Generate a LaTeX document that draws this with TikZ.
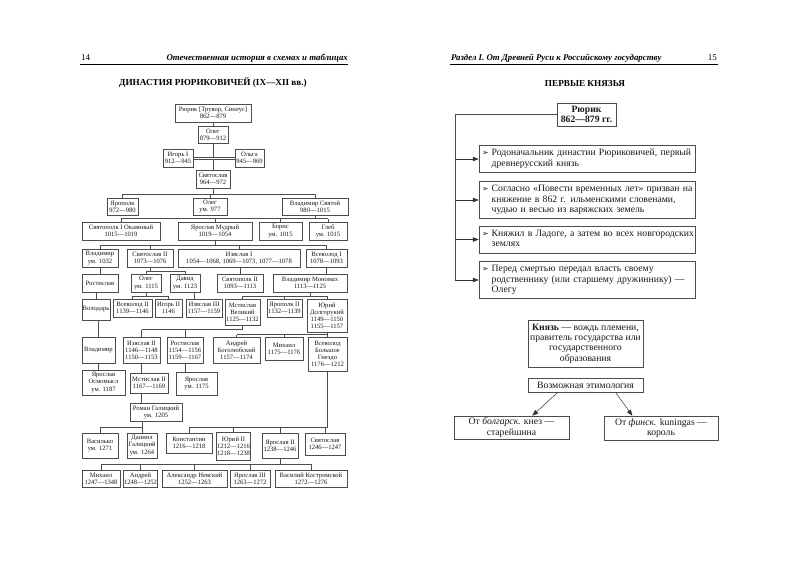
\documentclass[tikz,border=0pt]{standalone}
\usepackage{fontspec}
\setmainfont{Liberation Serif}
\newfontfamily\symfont{DejaVu Sans}
\usetikzlibrary{arrows.meta,calc}
\newcommand{\kbox}[7][bx]{\node[#1, minimum width={(#4)-(#3)}, minimum height={(#6)-(#5)}] (#2) at ({((#3)+(#4))/2},{-((#5)+(#6))/2}) {#7};}
\newcommand{\kids}[5]{%
  \coordinate (bb) at (0,-#2);
  \draw[cn] (#1.south) -- (#1.south |- bb);
  \draw[cn] (#3 |- bb) -- (#4 |- bb);
  \foreach \c in {#5} {\draw[cn] (\c.north) -- (\c.north |- bb);}
}
\newcommand{\bul}{{\symfont\fontsize{8}{8}\selectfont ➢}}
\tikzset{
  bx/.style={draw=black!70, line width=0.45pt, inner sep=0.5pt, align=center,
    font=\fontsize{6.6}{7.1}\selectfont, text=black!90},
  cn/.style={draw=black!70, line width=0.45pt},
  rbx/.style={draw=black!70, line width=0.5pt, inner sep=1pt, align=center,
    font=\fontsize{9.7}{10.4}\selectfont, text=black!90},
  rinfo/.style={draw=black!70, line width=0.5pt, inner sep=3pt, align=left,
    text width=210pt, font=\fontsize{9.7}{10.4}\selectfont, text=black!90},
  arr/.style={draw=black!80, line width=0.5pt, -{Triangle[length=6pt,width=4.5pt]}},
  hdr/.style={font=\bfseries\itshape\fontsize{8.8}{10}\selectfont},
  ttl/.style={font=\bfseries\fontsize{9.2}{10}\selectfont},
}
\begin{document}
\begin{tikzpicture}[x=1pt,y=1pt]
\useasboundingbox (0,0) rectangle (800,-566);
\fill[white] (0,0) rectangle (800,-566);

% ---------- left page header ----------
\node[anchor=base west, font=\fontsize{9}{10}\selectfont, inner sep=0] (p14) at (81,-60) {14};
\node[hdr, anchor=base east, inner sep=0] (hl) at (348,-60) {Отечественная история в схемах и таблицах};
\draw[line width=0.5pt] (80,-64.5) -- (348,-64.5);
\node[ttl] (tl) at (213,-83) {ДИНАСТИЯ РЮРИКОВИЧЕЙ (IX—XII вв.)};

% ---------- left tree ----------
\kbox{rk}{175}{251}{104}{122}{Рюрик [Трувор, Синеус]\\862—879}
\kbox{ol}{198}{228}{126}{143}{Олег\\879—912}
\kbox{ig}{163}{193}{149}{167}{Игорь I\\912—945}
\kbox{og}{235}{264}{149}{167}{Ольга\\945—969}
\kbox{sv}{196}{230}{170}{188}{Святослав\\964—972}
\kbox{yp}{107}{138}{198}{215}{Ярополк\\972—980}
\kbox{olb}{193}{227}{198}{215}{Олег\\ум. 977}
\kbox{vs}{282}{348}{198}{215}{Владимир Святой\\980—1015}
\kbox{spa}{82}{160}{222}{240}{Святополк I Окаянный\\1015—1019}
\kbox{ym}{178}{252}{222}{240}{Ярослав Мудрый\\1019—1054}
\kbox{bo}{259}{302}{222}{240}{Борис\\ум. 1015}
\kbox{gl}{309}{347}{222}{240}{Глеб\\ум. 1015}
\kbox{vla}{82}{118}{249}{267}{Владимир\\ум. 1032}
\kbox{sva}{127}{173}{249}{267}{Святослав II\\1073—1076}
\kbox{iza}{178}{300}{249}{267}{Изяслав I\\1054—1068, 1069—1073, 1077—1078}
\kbox{vva}{306}{347}{249}{267}{Всеволод I\\1078—1093}
\kbox{ro}{82}{118}{274}{292}{Ростислав}
\kbox{olc}{131}{161}{274}{292}{Олег\\ум. 1115}
\kbox{da}{170}{200}{274}{292}{Давид\\ум. 1123}
\kbox{spb}{217}{263}{274}{292}{Святополк II\\1093—1113}
\kbox{vm}{273}{347}{274}{292}{Владимир Мономах\\1113—1125}
\kbox{vo}{82}{110}{299}{320}{Володарь}
\kbox{vvb}{113}{152}{299}{317}{Всеволод II\\1139—1146}
\kbox{igb}{155}{182}{299}{317}{Игорь II\\1146}
\kbox{izc}{186}{222}{299}{317}{Изяслав III\\1157—1159}
\kbox{mv}{225}{260}{299}{325}{Мстислав\\Великий\\1125—1132}
\kbox{ypb}{267}{302}{299}{317}{Ярополк II\\1132—1139}
\kbox{yd}{307}{347}{299}{332}{Юрий\\Долгорукий\\1149—1150\\1155—1157}
\kbox{vlb}{82}{115}{337}{363}{Владимир}
\kbox{izb}{123}{160}{337}{363}{Изяслав II\\1146—1148\\1150—1153}
\kbox{rob}{167}{203}{337}{363}{Ростислав\\1154—1156\\1159—1167}
\kbox{an}{213}{260}{337}{363}{Андрей\\Боголюбский\\1157—1174}
\kbox{mi}{265}{303}{337}{360}{Михаил\\1175—1176}
\kbox{vbg}{308}{347}{337}{371}{Всеволод\\Большое\\Гнездо\\1176—1212}
\kbox{yo}{82}{125}{370}{395}{Ярослав\\Осмомысл\\ум. 1187}
\kbox{msb}{130}{168}{373}{393}{Мстислав II\\1167—1169}
\kbox{ya}{176}{217}{372}{395}{Ярослав\\ум. 1175}
\kbox{rg}{130}{182}{403}{421}{Роман Галицкий\\ум. 1205}
\kbox{va}{82}{118}{433}{458}{Василько\\ум. 1271}
\kbox{dg}{127}{157}{433}{458}{Даниил\\Галицкий\\ум. 1264}
\kbox{ko}{166}{212}{433}{453}{Константин\\1216—1218}
\kbox{yub}{217}{250}{432}{460}{Юрий II\\1212—1216\\1218—1238}
\kbox{yab}{262}{298}{433}{458}{Ярослав II\\1238—1246}
\kbox{svc}{305}{345}{433}{455}{Святослав\\1246—1247}
\kbox{mic}{82}{120}{470}{487}{Михаил\\1247—1348}
\kbox{anb}{124}{157}{470}{487}{Андрей\\1248—1252}
\kbox{anc}{162}{227}{470}{487}{Александр Невский\\1252—1263}
\kbox{yac}{230}{270}{470}{487}{Ярослав III\\1263—1272}
\kbox{vk}{275}{347}{470}{487}{Василий Костромской\\1272—1276}

% connectors
\draw[cn] (rk.south) -- (ol.north);
\draw[cn] (ol.south) -- ([yshift=1pt]ol.south |- ig.east);
\draw[cn] (sv.north) -- ([yshift=-1pt]sv.north |- ig.east);
\draw[cn] ([yshift=1pt]ig.east) -- ([yshift=1pt]og.west);
\draw[cn] ([yshift=-1pt]ig.east) -- ([yshift=-1pt]og.west);
\kids{sv}{194}{yp}{vs}{yp,olb,vs}
\kids{vs}{218.5}{spa}{gl}{spa,ym,bo,gl}
\kids{ym}{245}{vla}{vva}{vla,sva,iza,vva}
\draw[cn] (vla.south) -- (vla.south |- ro.north);
\kids{sva}{271}{olc}{da}{olc,da}
\draw[cn] (spb.north) -- (spb.north |- iza.south);
\draw[cn] (vva.south) -- (vva.south |- vm.north);
\draw[cn] (vo.north) -- (vo.north |- ro.south);
\kids{olc}{296}{vvb}{igb}{vvb,igb}
\coordinate (m1) at ($(da.south)!0.5!(izc.north)$);
\draw[cn] (da.south -| m1) -- (izc.north -| m1);
\kids{vm}{296}{mv}{yd}{mv,ypb,yd}
\kids{mv}{329.5}{izb}{mv}{izb,rob}
\kids{yd}{334.5}{an}{vbg}{an,mi,vbg}
\draw[cn] (vlb.north) -- (vlb.north |- vo.south);
\draw[cn] (vlb.south) -- (vlb.south |- yo.north);
\draw[cn] (izb.south) -- (izb.south |- msb.north);
\draw[cn] (rob.south) -- (rob.south |- ya.north);
\draw[cn] (izb.south |- msb.south) -- (izb.south |- rg.north);
\coordinate (bb) at (0,-427);
\draw[cn] (dg.north |- rg.south) -- (dg.north |- bb) -- (va.north |- bb) -- (va.north);
\draw[cn] (dg.north) -- (dg.north |- bb);
\kids{vbg}{427}{ko}{vbg}{ko,yub,yab,svc}
\kids{yab}{464}{mic}{vk}{mic,anb,anc,yac,vk}

% ---------- right page header ----------
\node[hdr, anchor=base west, inner sep=0] (hr) at (451,-60) {Раздел I. От Древней Руси к Российскому государству};
\node[anchor=base east, font=\fontsize{9}{10}\selectfont, inner sep=0] (p15) at (717,-60) {15};
\draw[line width=0.5pt] (450,-64.5) -- (718,-64.5);
\node[ttl] (tr) at (585,-83) {ПЕРВЫЕ КНЯЗЬЯ};

% ---------- right page ----------
\kbox[rbx, font=\bfseries\fontsize{9.7}{10.4}\selectfont]{rr}{557}{616}{103}{126}{Рюрик\\862—879 гг.}
\node[rinfo, minimum height=26pt] (i1) at (587,-159) {\begin{tabular}{@{}l@{\hspace{3pt}}l@{}}\bul & Родоначальник династии Рюриковичей, первый\\ & древнерусский князь\end{tabular}};
\node[rinfo, minimum height=36pt] (i2) at (587,-200) {\begin{tabular}{@{}l@{\hspace{3pt}}l@{}}\bul & Согласно «Повести временных лет» призван на\\ & княжение в 862 г. ильменскими словенами,\\ & чудью и весью из варяжских земель\end{tabular}};
\node[rinfo, minimum height=25pt] (i3) at (587,-239.5) {\begin{tabular}{@{}l@{\hspace{3pt}}l@{}}\bul & Княжил в Ладоге, а затем во всех новгородских\\ & землях\end{tabular}};
\node[rinfo, minimum height=36pt] (i4) at (587,-280) {\begin{tabular}{@{}l@{\hspace{3pt}}l@{}}\bul & Перед смертью передал власть своему\\ & родственнику (или старшему дружиннику) —\\ & Олегу\end{tabular}};
\coordinate (trk) at (455,0);
\draw[cn, line width=0.5pt] (rr.west) -- (rr.west -| trk) -- (trk |- i4.west);
\foreach \i in {i1,i2,i3,i4} {\draw[arr] (trk |- \i.west) -- (\i.west);}

\kbox[rbx]{kn}{528}{643}{320}{367}{\textbf{Князь} — вождь племени,\\правитель государства или\\государственного\\образования}
\kbox[rbx]{et}{528}{643}{378}{392}{Возможная этимология}
\kbox[rbx]{bl}{454}{569}{416}{439}{От \textit{болгарск.} кнез —\\старейшина}
\kbox[rbx]{bf}{604}{718}{416}{440}{От \textit{финск.} kuningas —\\король}
\draw[arr] ($(et.south west)!0.26!(et.south east)$) -- ($(bl.north west)!0.68!(bl.north east)$);
\draw[arr] ($(et.south west)!0.76!(et.south east)$) -- ($(bf.north west)!0.25!(bf.north east)$);
\end{tikzpicture}
\end{document}
